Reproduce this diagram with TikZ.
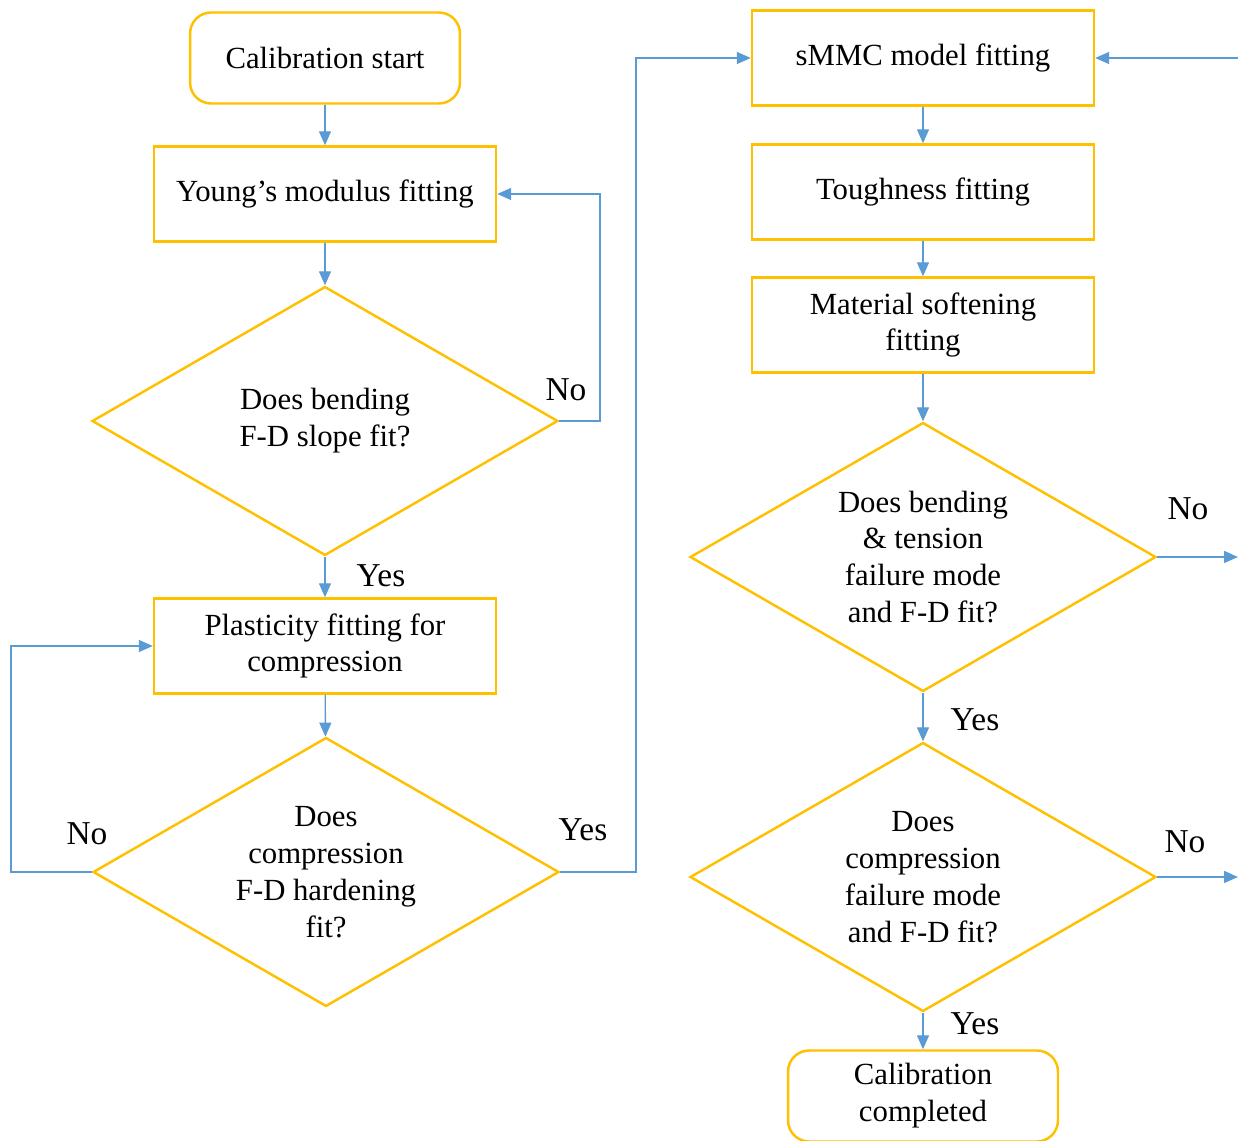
\documentclass[tikz,border=0pt]{standalone}
\usepackage{fontspec}
\setmainfont{Liberation Serif}
\usetikzlibrary{arrows.meta,positioning,shapes.geometric,calc}
\definecolor{boxyellow}{HTML}{FFC000}
\definecolor{linkblue}{HTML}{5B9BD5}
\tikzset{
  procbox/.style={draw=boxyellow,fill=white,line width=1.4pt,
                  minimum width=6.84cm,minimum height=1.9cm,
                  align=center,inner sep=4pt,
                  font=\fontsize{17.5}{21}\selectfont},
  termbox/.style={procbox,rounded corners=12pt,minimum width=5.4cm,minimum height=1.82cm},
  decision/.style={draw=boxyellow,fill=white,line width=1.4pt,diamond,aspect=1.73,
                   minimum width=9.32cm,minimum height=5.38cm,inner sep=0pt,
                   align=center,font=\fontsize{17.5}{21}\selectfont},
  link/.style={-{Triangle[length=2.8mm,width=2.4mm]},line width=0.8pt,color=linkblue},
  answer/.style={font=\fontsize{19}{22}\selectfont,inner sep=0pt}
}
\begin{document}
\begin{tikzpicture}[x=0.02cm,y=-0.02cm]
  \useasboundingbox (0,0) rectangle (1238,1141);

  % left column
  \node[termbox] (start) at (325,58) {Calibration start};
  \node[procbox] (young) at (325,194) {Young’s modulus fitting};
  \node[decision] (slope) at (325,421) {Does bending\\F-D slope fit?};
  \node[procbox] (plast) at (325,646) {Plasticity fitting for\\compression};
  \node[decision] (harden) at (326,872) {Does\\compression\\F-D hardening\\fit?};

  % right column
  \node[procbox] (smmc) at (923,58) {sMMC model fitting};
  \node[procbox] (tough) at (923,192) {Toughness fitting};
  \node[procbox] (soft) at (923,325) {Material softening\\fitting};
  \node[decision] (bendfail) at (923,557) {Does bending\\\& tension\\failure mode\\and F-D fit?};
  \node[decision] (compfail) at (923,877) {Does\\compression\\failure mode\\and F-D fit?};
  \node[termbox] (done) at (923,1096) {Calibration\\completed};

  \coordinate (inR) at (1238,58);
  \coordinate (outA) at (1238,557);
  \coordinate (outB) at (1238,877);

  \draw[link] (start) -- (young);
  \draw[link] (young) -- (slope);
  \draw[link] (slope) -- (plast);
  \draw[link] (plast) -- (harden);
  \draw[link] (slope.east) -- ++(41,0) |- (young.east);
  \draw[link] (harden.west) -- ++(-81,0) |- (plast.west);
  \draw[link] (harden.east) -- ++(76,0) |- (smmc.west);

  \draw[link] (inR) -- (smmc.east);
  \draw[link] (smmc) -- (tough);
  \draw[link] (tough) -- (soft);
  \draw[link] (soft) -- (bendfail);
  \draw[link] (bendfail) -- (compfail);
  \draw[link] (compfail) -- (done);
  \draw[link] (bendfail.east) -- (outA);
  \draw[link] (compfail.east) -- (outB);

  % answers
  \node[answer] (noA) at (566,390) {No};
  \node[answer] (yesA) at (381,576) {Yes};
  \node[answer] (noB) at (87,834) {No};
  \node[answer] (yesB) at (583,830) {Yes};
  \node[answer] (noC) at (1188,509) {No};
  \node[answer] (yesC) at (975,720) {Yes};
  \node[answer] (noD) at (1185,842) {No};
  \node[answer] (yesD) at (975,1024) {Yes};
\end{tikzpicture}
\end{document}
